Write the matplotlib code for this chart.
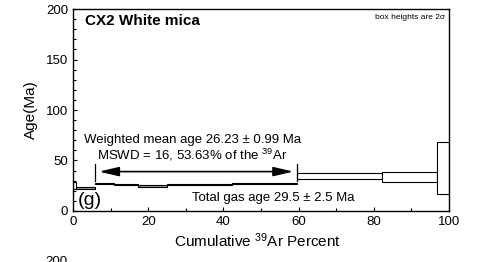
import matplotlib
matplotlib.use("Agg")
import matplotlib.pyplot as plt
from matplotlib.patches import Rectangle

plt.rcParams['font.family'] = ['Liberation Sans', 'DejaVu Sans']
plt.rcParams['mathtext.fontset'] = 'custom'
plt.rcParams['mathtext.rm'] = 'Liberation Sans'
plt.rcParams['mathtext.it'] = 'Liberation Sans:italic'
plt.rcParams['mathtext.bf'] = 'Liberation Sans:bold'

# step boundaries (cumulative 39Ar %), apparent ages and 2 sigma half heights
cum_edges = [0, 0.8, 5.9, 11.0, 17.2, 24.9, 42.2, 59.5, 82.1, 96.9, 100]
ages = [25.1, 22.6, 27.6, 26.2, 24.6, 26.5, 27.0, 34.7, 33.7, 42.4]
errs = [3.3, 0.9, 0.5, 0.5, 1.3, 0.5, 0.5, 3.3, 5.2, 25.6]
gray_steps = [1, 4]

plateau_start = 5.9
plateau_end = 59.5
arrow_age = 39
marker_low, marker_high = 30, 47

fig, ax = plt.subplots(figsize=(4.81, 2.62), dpi=100)
fig.subplots_adjust(left=0.1518, right=0.9335, bottom=0.1947, top=0.9656)

for i, age in enumerate(ages):
    x0 = cum_edges[i]
    w = cum_edges[i + 1] - x0
    face = '#999999' if i in gray_steps else 'white'
    ax.add_patch(Rectangle((x0, age - errs[i]), w, 2 * errs[i],
                           facecolor=face, edgecolor='black', linewidth=0.8))

# plateau markers and arrow
for xm in (plateau_start, plateau_end):
    ax.plot([xm, xm], [marker_low, marker_high], color='black', lw=0.9)
ax.annotate('', xy=(plateau_end - 0.9, arrow_age), xytext=(plateau_start + 1.0, arrow_age),
            arrowprops=dict(arrowstyle='<|-|>,head_length=1.2,head_width=0.28',
                            color='black', lw=1.2, shrinkA=0, shrinkB=0, mutation_scale=10))

ax.text(31.7, 70, 'Weighted mean age 26.23 \u00b1 0.99 Ma', ha='center', va='center', fontsize=9.5)
ax.text(31.7, 56, r'MSWD = 16, 53.63% of the $^{39}$Ar', ha='center', va='center', fontsize=9.5)
ax.text(53.3, 13.2, 'Total gas age 29.5 \u00b1 2.5 Ma', ha='center', va='center', fontsize=9.5)
ax.text(3.2, 188, 'CX2 White mica', ha='left', va='center', fontsize=11, fontweight='bold')
ax.text(0.99, 0.975, 'box heights are 2\u03c3', transform=ax.transAxes,
        ha='right', va='top', fontsize=6)
ax.text(1.2, 5.5, '(g)', ha='left', va='baseline', fontsize=14)

ax.set_xlim(0, 100)
ax.set_ylim(0, 200)
ax.set_xticks([0, 20, 40, 60, 80, 100])
ax.set_xticks(range(0, 101, 10), minor=True)
ax.set_yticks([0, 50, 100, 150, 200])
ax.set_yticks(range(0, 201, 10), minor=True)
ax.tick_params(which='both', direction='in', labelsize=9.5, width=0.8)
ax.tick_params(which='major', length=3)
ax.tick_params(which='minor', length=2)
for s in ax.spines.values():
    s.set_linewidth(1.0)

ax.set_xlabel(r'Cumulative $^{39}$Ar Percent', fontsize=11)
ax.xaxis.set_label_coords(0.49, -0.145)
ax.xaxis.label.set_va('center')
ax.set_ylabel('Age(Ma)', fontsize=11)
ax.yaxis.set_label_coords(-0.112, 0.5)
ax.yaxis.label.set_va('center')

# top of the next panel's axis label peeking in at the bottom
fig.text(56 / 481, 0.0, '200', ha='center', va='center', fontsize=9.5)

fig.savefig('out.png', dpi=100)
